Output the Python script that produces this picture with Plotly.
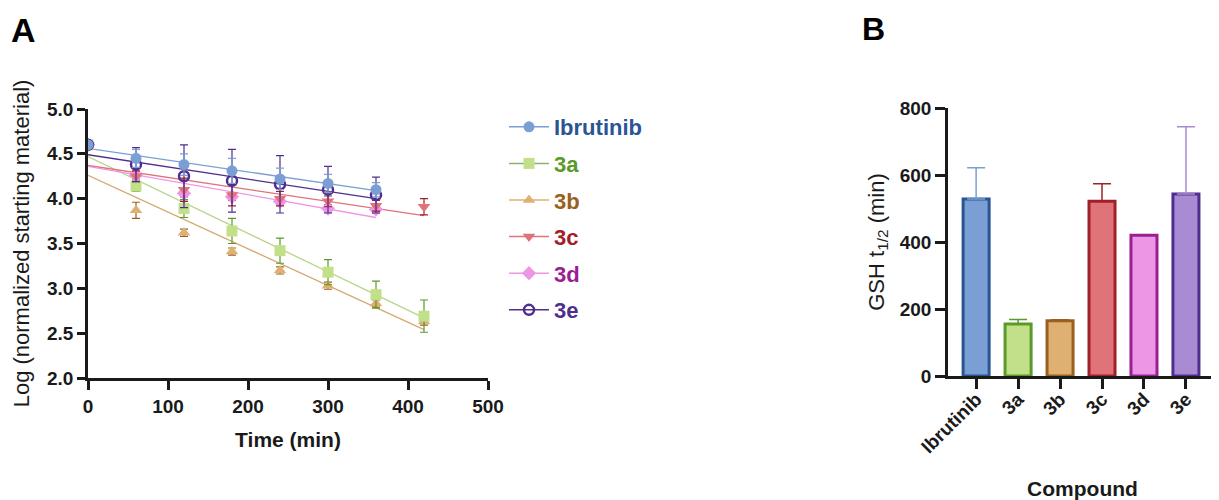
import plotly.graph_objects as go

# ---------------- Panel A data ----------------
series_names = ["Ibrutinib", "3a", "3b", "3c", "3d", "3e"]

ibr_t = [0, 60, 120, 180, 240, 300, 360]
ibr_y = [4.60, 4.45, 4.38, 4.31, 4.22, 4.17, 4.10]
ibr_e = [0.02, 0.10, 0.12, 0.14, 0.12, 0.10, 0.08]

a3_t = [0, 60, 120, 180, 240, 300, 360, 420]
a3_y = [4.60, 4.14, 3.89, 3.64, 3.42, 3.18, 2.93, 2.69]
a3_e = [0.02, 0.06, 0.10, 0.14, 0.14, 0.14, 0.15, 0.18]

b3_t = [0, 60, 120, 180, 240, 300, 360, 420]
b3_y = [4.60, 3.87, 3.62, 3.41, 3.20, 3.03, 2.83, 2.63]
b3_e = [0.02, 0.09, 0.04, 0.04, 0.04, 0.04, 0.04, 0.04]

c3_t = [0, 60, 120, 180, 240, 300, 360, 420]
c3_y = [4.60, 4.25, 4.10, 4.04, 4.00, 3.97, 3.92, 3.91]
c3_e = [0.02, 0.06, 0.13, 0.12, 0.08, 0.06, 0.06, 0.09]

d3_t = [0, 60, 120, 180, 240, 300, 360]
d3_y = [4.60, 4.26, 4.06, 4.02, 3.97, 3.89, 3.88]
d3_e = [0.02, 0.04, 0.04, 0.04, 0.04, 0.04, 0.04]

e3_t = [0, 60, 120, 180, 240, 300, 360]
e3_y = [4.60, 4.38, 4.25, 4.20, 4.16, 4.10, 4.04]
e3_e = [0.02, 0.19, 0.35, 0.35, 0.32, 0.26, 0.20]

# linear fit end points (time, value)
fit_t0 = [0, 0, 0, 0, 0, 0]
fit_t1 = [360, 420, 420, 420, 360, 360]
fit_y0 = [4.56, 4.47, 4.26, 4.37, 4.36, 4.49]
fit_y1 = [4.09, 2.67, 2.54, 3.81, 3.79, 4.00]

# ---------------- Panel B data ----------------
compounds = ["Ibrutinib", "3a", "3b", "3c", "3d", "3e"]
half_life = [528, 155, 165, 522, 420, 543]
half_life_err = [94, 14, 3, 52, 0, 201]

fill_colors = ["#7B9FD4", "#C2E08A", "#DEB072", "#E0737A", "#EE96E6", "#A98BD3"]
edge_colors = ["#2A5595", "#5A9A2A", "#9A6020", "#A0202A", "#9A2090", "#4F2E8E"]
err_colors = ["#7B9FD4", "#5A9A2A", "#9A6020", "#A0202A", "#9A2090", "#A98BD3"]
fit_colors = ["#7B9FD4", "#B5D68A", "#D6A870", "#E0737A", "#EE96E6", "#4F2E8E"]
symbols = ["circle", "square", "triangle-up", "triangle-down", "diamond", "circle-open"]

FONT = "Liberation Sans, Arial, sans-serif"
TXT = "#1a1a1a"

# page has an 8px body margin: build the figure in a 1211x492 frame
W, H, OFF = 1211, 492, 8


def px_x(p):
    return (p - OFF) / W


def px_y(p):
    return 1 - (p - OFF) / H


fig = go.Figure()

data_sets = [
    (ibr_t, ibr_y, ibr_e),
    (a3_t, a3_y, a3_e),
    (b3_t, b3_y, b3_e),
    (c3_t, c3_y, c3_e),
    (d3_t, d3_y, d3_e),
    (e3_t, e3_y, e3_e),
]

# fit lines
for i, name in enumerate(series_names):
    fig.add_trace(go.Scatter(
        x=[fit_t0[i], fit_t1[i]], y=[fit_y0[i], fit_y1[i]],
        mode="lines", line=dict(color=fit_colors[i], width=1.3),
        showlegend=False, hoverinfo="skip", xaxis="x", yaxis="y"))

# points with error bars
order = [2, 1, 4, 3, 5, 0]
for i in order:
    t, y, e = data_sets[i]
    if symbols[i] == "circle-open":
        marker = dict(symbol="circle-open", size=10, color=edge_colors[i],
                      line=dict(width=2.5, color=edge_colors[i]))
    else:
        marker = dict(symbol=symbols[i], size=11, color=fill_colors[i],
                      line=dict(width=0))
    fig.add_trace(go.Scatter(
        x=t, y=y, mode="markers", marker=marker,
        error_y=dict(type="data", array=e, visible=True,
                     color=edge_colors[i] if i != 0 else "#7B9FD4",
                     thickness=1.2, width=4),
        showlegend=False, xaxis="x", yaxis="y"))

# legend entries
for i, name in enumerate(series_names):
    if symbols[i] == "circle-open":
        marker = dict(symbol="circle-open", size=10, color=edge_colors[i],
                      line=dict(width=2.5, color=edge_colors[i]))
        lc = edge_colors[i]
    else:
        marker = dict(symbol=symbols[i], size=11, color=fill_colors[i])
        lc = fill_colors[i] if i != 1 else "#8FAF70"
    fig.add_trace(go.Scatter(
        x=[None], y=[None], mode="lines+markers",
        name="<span style='color:%s'><b>%s</b></span>" % (edge_colors[i], name),
        legendgroup=name, marker=marker, line=dict(color=lc, width=1.5),
        xaxis="x", yaxis="y", showlegend=True))

# bars
fig.add_trace(go.Bar(
    x=compounds, y=half_life,
    marker=dict(color=fill_colors, line=dict(color=edge_colors, width=3)),
    width=0.62, showlegend=False, xaxis="x2", yaxis="y2"))

for i, c in enumerate(compounds):
    if half_life_err[i] > 0:
        fig.add_trace(go.Scatter(
            x=[c], y=[half_life[i]], mode="markers",
            marker=dict(size=1, color="rgba(0,0,0,0)"),
            error_y=dict(type="data", symmetric=False, array=[half_life_err[i]],
                         arrayminus=[0], color=err_colors[i], thickness=1.5, width=9),
            showlegend=False, xaxis="x2", yaxis="y2", hoverinfo="skip"))

tickfont = dict(family=FONT, size=19, color=TXT, weight="bold")
title_bold = dict(family=FONT, size=21, color=TXT, weight="bold")
title_reg = dict(family=FONT, size=22, color=TXT, weight="normal")
axis_common = dict(showline=True, linecolor="#1a1a1a", linewidth=2.5, ticks="outside",
                   tickcolor="#1a1a1a", tickwidth=2.5, showgrid=False, zeroline=False,
                   automargin=False, tickfont=tickfont)

fig.update_layout(
    width=W, height=H,
    margin=dict(l=0, r=0, t=0, b=0),
    paper_bgcolor="white", plot_bgcolor="white",
    font=dict(family=FONT, color=TXT),
    xaxis=dict(domain=[px_x(88), px_x(488)], range=[0, 500], tickvals=[0, 100, 200, 300, 400, 500],
               ticklen=9, anchor="y",
               title=dict(text="Time (min)", font=title_bold, standoff=17),
               **axis_common),
    yaxis=dict(domain=[px_y(378), px_y(109)], range=[2, 5], tickvals=[2, 2.5, 3, 3.5, 4, 4.5, 5],
               tickformat=".1f", ticklen=8, anchor="x",
               title=dict(text="Log (normalized starting material)", font=title_reg, standoff=12),
               **axis_common),
    xaxis2=dict(domain=[px_x(948), px_x(1217)], range=[-0.67, 5.74], ticklen=10, anchor="y2",
                tickangle=-45, ticklabelstandoff=-8,
                title=dict(text="Compound", font=title_bold, standoff=26),
                **axis_common),
    yaxis2=dict(domain=[px_y(376), px_y(108)], range=[0, 800], tickvals=[0, 200, 400, 600, 800],
                ticklen=10, anchor="x2",
                title=dict(text="GSH t<sub>1/2</sub> (min)", font=title_reg, standoff=10),
                **axis_common),
    legend=dict(x=px_x(504), y=px_y(106), xanchor="left", yanchor="top",
                font=dict(family=FONT, size=22, weight="bold"), tracegroupgap=5,
                traceorder="grouped", itemwidth=40, bgcolor="rgba(0,0,0,0)"),
)

# Panel letters
fig.add_annotation(text="A", x=px_x(23), y=px_y(30), xref="paper", yref="paper",
                   xanchor="center", yanchor="middle",
                   showarrow=False, font=dict(family=FONT, size=34, color="black", weight="bold"))
fig.add_annotation(text="B", x=px_x(873), y=px_y(29), xref="paper", yref="paper",
                   xanchor="center", yanchor="middle",
                   showarrow=False, font=dict(family=FONT, size=32, color="black", weight="bold"))

fig.write_html("out.html")
